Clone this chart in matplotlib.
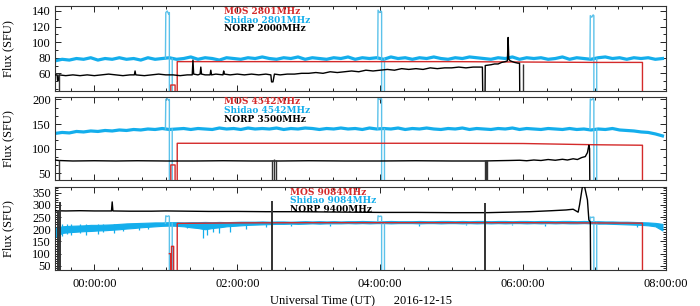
import numpy as np
import matplotlib
matplotlib.use('Agg')
import matplotlib.pyplot as plt
from matplotlib.ticker import FuncFormatter, MultipleLocator

plt.rcParams['font.family'] = 'Liberation Serif'

# ---------------- data (time in hours UT, flux in SFU) ----------------
# Shidao baseline, sampled every 0.1 h from -0.55 to 7.95
t_grid = np.round(np.arange(-0.55, 7.99, 0.1), 2)

shidao1 = [76, 78, 77, 79, 78, 80, 77, 79, 78, 80,
           78, 79, 77, 80, 78, 79, 80, 78, 79, 81,
           78, 80, 79, 77, 80, 79, 78, 80, 79, 81,
           79, 78, 80, 79, 81, 78, 80, 79, 78, 80,
           79, 81, 78, 80, 79, 80, 78, 81, 79, 80,
           78, 80, 79, 81, 79, 78, 80, 79, 81, 80,
           79, 78, 80, 79, 81, 78, 80, 79, 80, 78,
           79, 81, 78, 80, 79, 78, 80, 81, 79, 80,
           78, 80, 79, 80, 78, 79]
shidao2 = [131, 133, 132, 135, 134, 136, 135, 137, 136, 138,
           137, 139, 138, 140, 139, 141, 139, 140, 141, 139,
           141, 140, 139, 142, 140, 141, 139, 142, 140, 141,
           140, 142, 139, 141, 140, 142, 141, 139, 141, 140,
           142, 140, 141, 139, 142, 140, 141, 140, 142, 139,
           141, 140, 142, 140, 139, 141, 140, 142, 139, 141,
           140, 139, 141, 140, 142, 139, 141, 140, 139, 141,
           140, 139, 141, 139, 140, 138, 140, 139, 141, 138,
           137, 136, 134, 133, 130, 126]
# 9084 MHz is a wide noisy band: upper and lower envelope
shidao3_hi = [205, 212, 214, 215, 216, 218, 218, 219, 220, 222,
              224, 225, 226, 227, 228, 228, 229, 229, 228, 229,
              229, 230, 229, 230, 229, 230, 231, 231, 231, 232,
              231, 232, 232, 231, 232, 233, 232, 233, 232, 233,
              232, 233, 233, 234, 233, 232, 233, 234, 233, 233,
              233, 234, 233, 233, 234, 234, 233, 234, 233, 234,
              234, 233, 234, 234, 233, 234, 234, 233, 234, 234,
              233, 234, 234, 233, 234, 233, 233, 232, 232, 231,
              231, 230, 229, 228, 226, 222]
shidao3_lo = [168, 185, 188, 190, 192, 193, 195, 196, 198, 200,
              203, 205, 208, 210, 212, 214, 215, 214, 212, 208,
              205, 200, 205, 208, 212, 214, 216, 218, 219, 220,
              221, 222, 222, 223, 222, 223, 224, 223, 224, 224,
              224, 225, 224, 225, 224, 225, 225, 224, 225, 225,
              225, 224, 225, 225, 224, 225, 225, 224, 225, 224,
              225, 224, 225, 224, 225, 225, 224, 225, 224, 225,
              224, 225, 224, 224, 225, 224, 223, 223, 222, 221,
              220, 219, 218, 216, 212, 195]

# Shidao calibration spikes
cal_t = [0.995, 1.0, 1.02, 1.04, 1.05, 1.05, 1.09, 1.09, np.nan,
         3.965, 3.97, 3.99, 4.01, 4.02, 4.02, 4.06, 4.06, np.nan,
         6.935, 6.94, 6.96, 6.98, 6.99, 6.99, 7.03, 7.03]
cal1_v = [79, 138, 140, 136, 138, 0, 0, 79, np.nan,
          79, 141, 138, 140, 139, 0, 0, 79, np.nan,
          79, 134, 132, 135, 134, 0, 0, 79]
cal2_v = [140, 200, 202, 198, 200, 0, 0, 140, np.nan,
          140, 203, 200, 202, 201, 0, 0, 140, np.nan,
          140, 201, 199, 202, 200, 0, 0, 140]
cal3_v = [224, 255, 252, 255, 253, 0, 0, 225, np.nan,
          228, 255, 252, 254, 252, 0, 0, 228, np.nan,
          228, 250, 248, 250, 249, 0, 0, 228]

# downward dips of the Shidao 9084 MHz trace
dips3_t = [-0.45, -0.38, -0.32, -0.2, -0.12, 0.05, 0.12, 0.28, 0.4, 0.62,
           0.75, 1.3, 1.52, 1.58, 1.66, 1.75, 1.9, 2.12, 2.4, 2.75,
           3.3, 4.55, 5.2, 5.85, 6.3, 7.6]
dips3_v = [172, 180, 176, 185, 178, 182, 188, 185, 192, 195,
           200, 205, 165, 175, 190, 185, 190, 200, 208, 212,
           215, 214, 218, 216, 212, 210]

# MOS
mos1_t = [1.07, 1.07, 1.13, 1.13, 1.16, 1.16, 2.0, 3.0, 4.0, 5.0, 6.0, 7.0, 7.67, 7.67]
mos1_v = [0, 45, 45, 0, 0, 75, 75, 75, 75, 75, 74.5, 74, 74, 0]
mos2_t = mos1_t
mos2_v = [0, 67, 67, 0, 0, 111, 111, 111, 111, 111, 110.5, 108, 107, 0]
mos3_t = [1.05, 1.07, 1.07, 1.08, 1.08, 1.11, 1.11, 1.16, 1.16,
          2.0, 3.0, 4.0, 5.0, 6.0, 6.9, 7.67, 7.67]
mos3_v = [100, 100, 0, 0, 130, 130, 0, 0, 224,
          226, 227, 227, 227, 227, 226, 225, 0]

# NORP
norp1_t = [-0.55, -0.52, -0.515, -0.50, -0.495, -0.4, -0.3, -0.2, -0.1, 0.0,
           0.1, 0.2, 0.3, 0.4, 0.5, 0.56, 0.57, 0.58, 0.7, 0.8,
           0.9, 1.0, 1.1, 1.2, 1.3, 1.37, 1.38, 1.39, 1.45, 1.48,
           1.49, 1.5, 1.55, 1.62, 1.63, 1.64, 1.7, 1.8, 1.81, 1.82,
           1.9, 2.0, 2.1, 2.2, 2.3, 2.4, 2.47, 2.48, 2.5, 2.52,
           2.6, 2.7, 2.8, 2.9, 3.0, 3.1, 3.2, 3.3, 3.4, 3.5,
           3.6, 3.7, 3.8, 3.9, 4.0, 4.1, 4.2, 4.3, 4.4, 4.5,
           4.6, 4.7, 4.8, 4.9, 5.0, 5.1, 5.2, 5.3, 5.4, 5.43,
           5.44, 5.465, 5.47, 5.55, 5.6, 5.65, 5.7, 5.75, 5.78, 5.79,
           5.8, 5.82, 5.88, 5.93, 5.95, 5.955]
norp1_v = [58, 58, 51, 51, 58, 57, 58, 57, 58, 57,
           58, 59, 58, 57, 58, 58, 63, 58, 57, 58,
           59, 58, 58, 57, 58, 58, 77, 59, 58, 59,
           68, 59, 58, 58, 64, 58, 59, 58, 63, 59,
           58, 59, 58, 59, 58, 59, 58, 49, 49, 59,
           58, 59, 59, 60, 60, 61, 60, 62, 61, 62,
           63, 62, 64, 63, 64, 65, 64, 66, 65, 66,
           65, 67, 66, 67, 67, 68, 67, 68, 68, 68,
           0, 0, 70, 71, 72, 72, 74, 75, 76, 106,
           78, 76, 74, 73, 73, 0]
norp2_t = [-0.55, -0.5, -0.3, 0.0, 0.3, 0.6, 1.0, 1.4, 1.8, 2.2,
           2.47, 2.6, 3.0, 3.5, 4.0, 4.5, 5.0, 5.45, 5.6, 5.8,
           5.95, 6.05, 6.15, 6.25, 6.35, 6.45, 6.55, 6.62, 6.7, 6.76,
           6.82, 6.87, 6.9, 6.92, 6.93, 6.935]
norp2_v = [77, 76, 75, 75.5, 75, 75.5, 75, 75, 75.5, 75,
           75, 75, 75.5, 75, 75, 75.5, 75, 75, 75.5, 76,
           76.5, 75.5, 77, 76, 78, 76.5, 78.5, 77, 79.5, 78,
           82, 84, 92, 107, 100, 0]
norp3_t = [-0.55, -0.4, -0.2, 0.0, 0.2, 0.24, 0.25, 0.26, 0.5, 0.8,
           1.0, 1.3, 1.6, 2.0, 2.4, 2.8, 3.2, 3.6, 4.0, 4.5,
           5.0, 5.5, 5.8, 6.1, 6.4, 6.6, 6.7, 6.77, 6.79, 6.83,
           6.86, 6.9, 6.92, 6.94, 6.945]
norp3_v = [276, 275, 276, 275, 275, 275, 312, 275, 274, 274,
           275, 274, 273, 273, 272, 272, 271, 270, 269, 269,
           268, 268, 270, 272, 276, 279, 282, 270, 300, 375,
           375, 320, 238, 230, 0]

# NORP data drop-outs (vertical lines from the bottom)
gap1_t = [-0.49, 6.0]
gap1_v = [58, 72]
gap2_t = [-0.49, 2.49, 2.52, 2.54, 5.46, 5.48, 5.5]
gap2_v = [78, 76, 80, 76, 76, 76, 76]
gap3_t = [-0.51, -0.48, 2.49, 5.46]
gap3_v = [278, 312, 315, 308]

labels = [('MOS 2801MHz', 'Shidao 2801MHz', 'NORP 2000MHz'),
          ('MOS 4542MHz', 'Shidao 4542MHz', 'NORP 3500MHz'),
          ('MOS 9084MHz', 'Shidao 9084MHz', 'NORP 9400MHz')]

cyan = '#14AEEC'
cyan_light = '#5CC2EA'
red = '#D42A2A'

fig = plt.figure(figsize=(7, 3.06), dpi=100)
ax1 = fig.add_axes([0.0786, 0.7026, 0.8729, 0.2778])
ax2 = fig.add_axes([0.0786, 0.4118, 0.8729, 0.2712])
ax3 = fig.add_axes([0.0786, 0.1176, 0.8729, 0.2712])
axes = [ax1, ax2, ax3]

shidao = [shidao1, shidao2, None]
cals = [cal1_v, cal2_v, cal3_v]
mos = [(mos1_t, mos1_v), (mos2_t, mos2_v), (mos3_t, mos3_v)]
norp = [(norp1_t, norp1_v), (norp2_t, norp2_v), (norp3_t, norp3_v)]
gaps = [(gap1_t, gap1_v), (gap2_t, gap2_v), (gap3_t, gap3_v)]
ylims = [(37.3, 146.4), (36.4, 205), (33, 373)]
yticks = [[60, 80, 100, 120, 140], [50, 100, 150, 200],
          [50, 100, 150, 200, 250, 300, 350]]
yminor = [10, 50 / 3, 10]
leg_x = [0.277, 0.277, 0.385]

for i, ax in enumerate(axes):
    if i < 2:
        ax.plot(t_grid, shidao[i], color=cyan, lw=2.3, zorder=2)
    else:
        ax.fill_between(t_grid, shidao3_lo, shidao3_hi, color=cyan, lw=0.8,
                        edgecolor=cyan, zorder=2)
        ax.vlines(dips3_t, dips3_v, 222, color=cyan, lw=0.9, zorder=2)
    ax.plot(cal_t, cals[i], color=cyan_light, lw=1.0, zorder=2)
    ax.plot(mos[i][0], mos[i][1], color=red, lw=1.0, zorder=3)
    ax.plot(norp[i][0], norp[i][1], color='black', lw=1.0, zorder=4)
    ax.vlines(gaps[i][0], 0, gaps[i][1], color='#333333',
              lw=1.4 if i == 2 else 1.0, zorder=4)

    ax.set_xlim(-0.55, 8.0)
    ax.set_ylim(*ylims[i])
    ax.set_yticks(yticks[i])
    ax.yaxis.set_minor_locator(MultipleLocator(yminor[i]))
    ax.xaxis.set_major_locator(MultipleLocator(2))
    ax.xaxis.set_minor_locator(MultipleLocator(1 / 3))
    ax.tick_params(which='both', direction='in', top=True, right=True,
                   width=0.6, labelsize=9, pad=3)
    ax.tick_params(which='major', length=4)
    ax.tick_params(which='minor', length=2)
    for s in ax.spines.values():
        s.set_linewidth(0.8)
        s.set_color('#333333')
    ax.set_ylabel('Flux (SFU)', fontsize=9)
    ax.yaxis.set_label_coords(-0.067, 0.5)

    for txt, c, yy in zip(labels[i], [red, cyan, 'black'], [0.94, 0.835, 0.73]):
        ax.text(leg_x[i], yy, txt, transform=ax.transAxes, color=c,
                fontsize=6.5, fontweight='bold', family='DejaVu Serif',
                va='center', ha='left')

    if i < 2:
        ax.tick_params(labelbottom=False)

ax3.xaxis.set_major_formatter(FuncFormatter(lambda h, p: '%02d:00:00' % h))
ax3.tick_params(axis='x', pad=6)
ax3.set_xlabel('Universal Time (UT)      2016-12-15', fontsize=9, labelpad=3)

fig.savefig('out.png', dpi=100)
